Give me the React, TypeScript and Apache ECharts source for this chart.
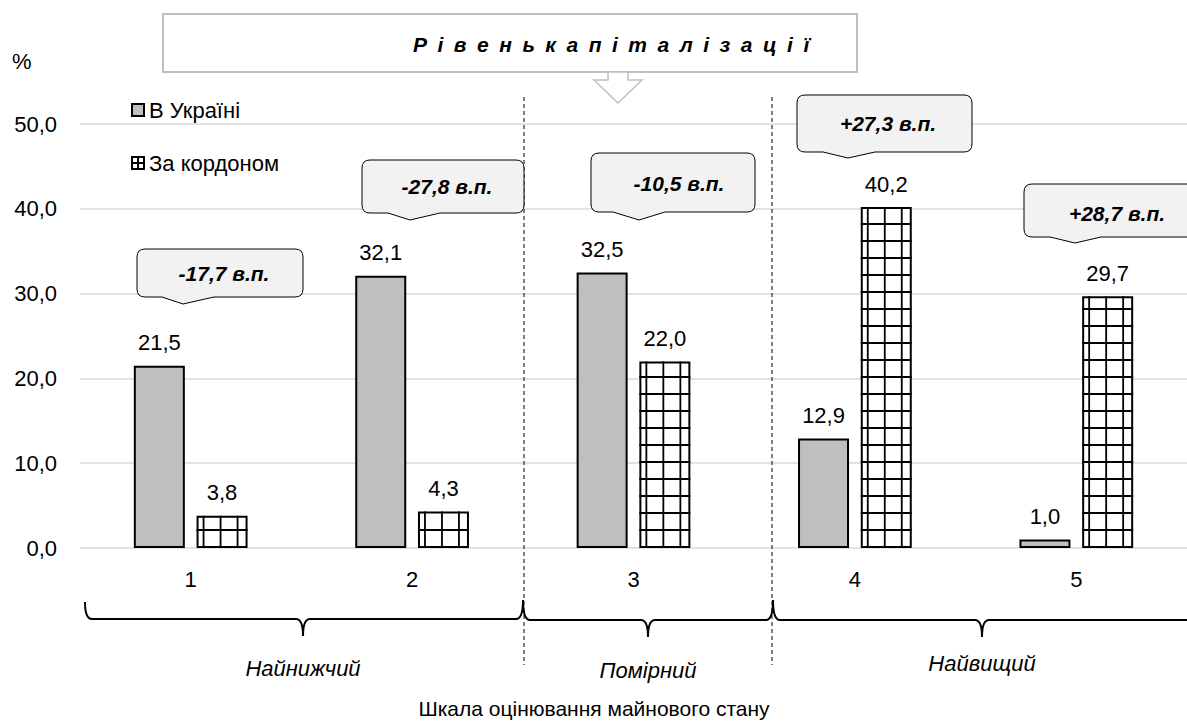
import React, { useEffect, useRef } from "react";
import * as echarts from "echarts";

const categories = ["1", "2", "3", "4", "5"];
const ukraine = [21.5, 32.1, 32.5, 12.9, 1.0];
const abroad = [3.8, 4.3, 22.0, 40.2, 29.7];
const seriesNames = ["В Україні", "За кордоном"];
const groupLabels = ["Найнижчий", "Помірний", "Найвищий"];
const yTicks = { min: 0, max: 50, interval: 10 };
const titleLetters = "Рівенькапіталізації";
const axisTitle = "Шкала оцінювання майнового стану";

const FONT = "'Liberation Sans', Arial, sans-serif";
const fmt = (v: number) => v.toFixed(1).replace(".", ",");

const BAR_W = 51;
const BAR_GAP = 0.23;

const calloutBoxes = [
  { x1: 137, y1: 249, x2: 303, y2: 297, pl: 162, pr: 214, tx: 183, ty: 304, cx: 224, cy: 273 },
  { x1: 362, y1: 160, x2: 524, y2: 213, pl: 388, pr: 440, tx: 410, ty: 220, cx: 447, cy: 186 },
  { x1: 591, y1: 153, x2: 755, y2: 212, pl: 613, pr: 665, tx: 639, ty: 220, cx: 679, cy: 183 },
  { x1: 797, y1: 95, x2: 972, y2: 152, pl: 823, pr: 875, tx: 848, ty: 158, cx: 888, cy: 123 },
  { x1: 1024, y1: 184, x2: 1196, y2: 237, pl: 1050, pr: 1101, tx: 1075, ty: 243, cx: 1117, cy: 213 },
];

function calloutPath(b: any) {
  const r = 8;
  return `M${b.x1 + r},${b.y1} L${b.x2 - r},${b.y1} Q${b.x2},${b.y1} ${b.x2},${b.y1 + r} L${b.x2},${b.y2 - r} Q${b.x2},${b.y2} ${b.x2 - r},${b.y2} L${b.pr},${b.y2} L${b.tx},${b.ty} L${b.pl},${b.y2} L${b.x1 + r},${b.y2} Q${b.x1},${b.y2} ${b.x1},${b.y2 - r} L${b.x1},${b.y1 + r} Q${b.x1},${b.y1} ${b.x1 + r},${b.y1} Z`;
}

const bracePaths = [
  "M85,602 Q85,619 92,619 L296,619 Q303,619 303,636 Q303,619 310,619 L516,619 Q523,619 523,600",
  "M523,600 Q523,620 530,620 L641,620 Q648,620 648,637 Q648,620 655,620 L766,620 Q773,620 773,600",
  "M773,600 Q773,620 780,620 L975,620 Q982,620 982,637 Q982,620 989,620 L1195,620",
];
const groupLabelPos = [
  [303, 668],
  [648, 670],
  [982, 663],
];

let registered = false;
function registerShapes() {
  if (registered) return;
  registered = true;
  calloutBoxes.forEach((b, i) => {
    echarts.graphic.registerShape("callout" + i, echarts.graphic.extendPath(calloutPath(b), {}) as any);
  });
  bracePaths.forEach((d, i) => {
    echarts.graphic.registerShape("brace" + i, echarts.graphic.extendPath(d, {}) as any);
  });
  echarts.graphic.registerShape(
    "bannerArrow",
    echarts.graphic.extendPath("M608,72 L608,80 L594,80 L618,103 L642,80 L628,80 L628,72 Z", {}) as any
  );
}

export default function App() {
  const ref = useRef<HTMLDivElement>(null);
  useEffect(() => {
    if (!ref.current) return;
    registerShapes();
    const chart = echarts.init(ref.current, null, { renderer: "svg" });

    const diffs = ukraine.map((u, i) => {
      const d = Math.round((abroad[i] - u) * 10) / 10;
      return (d > 0 ? "+" : "") + fmt(d) + " в.п.";
    });

    const graphics: any[] = [];
    graphics.push({
      type: "rect",
      shape: { x: 163, y: 14, width: 694, height: 58 },
      style: { fill: "#fff", stroke: "#bfbfbf", lineWidth: 2 },
      z: 10,
    });
    graphics.push({
      type: "bannerArrow",
      style: { fill: "#fff", stroke: "#bfbfbf", lineWidth: 1.5 },
      z: 11,
    });
    graphics.push({
      type: "text",
      x: 413,
      y: 44,
      style: {
        text: Array.from(titleLetters).join("\u2002"),
        fontSize: 21,
        fontWeight: "bold",
        fontStyle: "italic",
        fontFamily: FONT,
        fill: "#000",
        textAlign: "left",
        textVerticalAlign: "middle",
      },
      z: 12,
    });
    graphics.push({
      type: "text",
      x: 12,
      y: 61,
      style: { text: "%", fontSize: 22, fontFamily: FONT, fill: "#000", textAlign: "left", textVerticalAlign: "middle" },
    });
    [524, 772].forEach((x) => {
      graphics.push({
        type: "line",
        shape: { x1: x, y1: 97, x2: x, y2: 665 },
        style: { stroke: "#000", lineWidth: 1, lineDash: [4, 3] },
        z: 5,
      });
    });
    bracePaths.forEach((_, i) => {
      graphics.push({
        type: "brace" + i,
        style: { fill: "none", stroke: "#000", lineWidth: 2 },
        z: 6,
      });
    });
    groupLabels.forEach((t, i) => {
      graphics.push({
        type: "text",
        x: groupLabelPos[i][0],
        y: groupLabelPos[i][1],
        style: {
          text: t,
          fontSize: 22,
          fontStyle: "italic",
          fontFamily: FONT,
          fill: "#000",
          textAlign: "center",
          textVerticalAlign: "middle",
        },
      });
    });
    graphics.push({
      type: "text",
      x: 594,
      y: 708,
      style: { text: axisTitle, fontSize: 21, fontFamily: FONT, fill: "#000", textAlign: "center", textVerticalAlign: "middle" },
    });
    calloutBoxes.forEach((b, i) => {
      graphics.push({
        type: "callout" + i,
        style: { fill: "#f2f2f2", stroke: "#000", lineWidth: 1 },
        z: 20,
      });
      graphics.push({
        type: "text",
        x: b.cx,
        y: b.cy,
        style: {
          text: diffs[i],
          fontSize: 21,
          fontWeight: "bold",
          fontStyle: "italic",
          fontFamily: FONT,
          fill: "#000",
          textAlign: "center",
          textVerticalAlign: "middle",
        },
        z: 21,
      });
    });

    const labelCfg = {
      show: true,
      position: "top",
      distance: 12,
      fontSize: 22,
      color: "#000",
      fontFamily: FONT,
      formatter: (p: any) => fmt(p.value),
    };

    const hatchRender = (params: any, api: any) => {
      const i = api.value(0);
      const v = api.value(1);
      const base = api.coord([i, 0]);
      const top = api.coord([i, v]);
      const gap = BAR_W * BAR_GAP;
      const x0 = base[0] - (2 * BAR_W + gap) / 2 + BAR_W + gap;
      const x1 = x0 + BAR_W;
      const children: any[] = [];
      const ls = { stroke: "#000", lineWidth: 1.8 };
      for (let x = x0 + 7; x < x1 - 3; x += 17) {
        children.push({ type: "line", shape: { x1: x, y1: top[1], x2: x, y2: base[1] }, style: ls });
      }
      for (let y = base[1] - 18; y > top[1] + 3; y -= 17) {
        children.push({ type: "line", shape: { x1: x0, y1: y, x2: x1, y2: y }, style: ls });
      }
      return { type: "group", children };
    };

    chart.setOption({
      animation: false,
      backgroundColor: "#fff",
      textStyle: { fontFamily: FONT },
      grid: { left: 80, right: 0, top: 124, bottom: 179, containLabel: false },
      legend: {
        orient: "vertical",
        left: 126,
        top: 94,
        itemWidth: 12,
        itemHeight: 12,
        itemGap: 31,
        data: [
          { name: seriesNames[0], icon: "rect" },
          { name: seriesNames[1], icon: "path://M0,0H12V12H0ZM6,0V12M0,6H12" },
        ],
        textStyle: { fontSize: 22, color: "#000", fontFamily: FONT },
        itemStyle: { borderColor: "#000", borderWidth: 2 },
      },
      xAxis: {
        type: "category",
        data: categories,
        axisLine: { show: false },
        axisTick: { show: false },
        axisLabel: { fontSize: 22, color: "#000", margin: 20, fontFamily: FONT },
      },
      yAxis: {
        type: "value",
        min: yTicks.min,
        max: yTicks.max,
        interval: yTicks.interval,
        axisLine: { show: false },
        axisTick: { show: false },
        axisLabel: { fontSize: 22, color: "#000", margin: 23, fontFamily: FONT, formatter: (v: number) => fmt(v) },
        splitLine: { lineStyle: { color: "#d9d9d9", width: 1.5 } },
      },
      series: [
        {
          name: seriesNames[0],
          type: "bar",
          data: ukraine,
          barWidth: BAR_W,
          barGap: BAR_GAP * 100 + "%",
          itemStyle: { color: "#bfbfbf", borderColor: "#000", borderWidth: 2 },
          label: labelCfg,
          z: 2,
        },
        {
          name: seriesNames[1],
          type: "bar",
          data: abroad,
          barWidth: BAR_W,
          barGap: BAR_GAP * 100 + "%",
          itemStyle: { color: "#ffffff", borderColor: "#000", borderWidth: 2 },
          label: labelCfg,
          z: 2,
        },
        {
          name: seriesNames[1] + " hatch",
          type: "custom",
          data: abroad.map((v, i) => [i, v]),
          renderItem: hatchRender,
          silent: true,
          z: 3,
        },
      ],
      graphic: { elements: graphics },
    });
    return () => chart.dispose();
  }, []);
  return <div ref={ref} style={{ position: "fixed", left: 0, top: 0, width: 1187, height: 727 }} />;
}
